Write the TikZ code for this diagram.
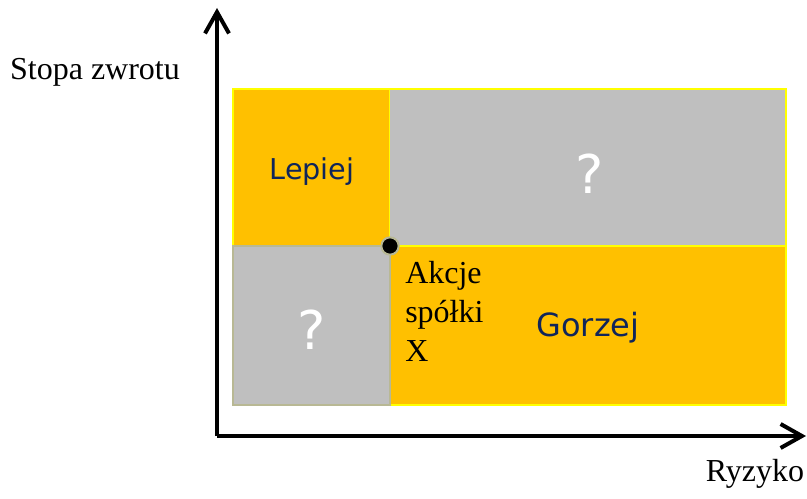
\documentclass[tikz,border=0pt]{standalone}
\usepackage{fontspec}
\setmainfont{Liberation Serif}
\newfontfamily\boxfont{DejaVu Sans}
\usetikzlibrary{arrows.meta}
\definecolor{amber}{HTML}{FFC000}
\definecolor{silver}{HTML}{BFBFBF}
\definecolor{edgeyellow}{HTML}{FFFF00}
\definecolor{edgeolive}{HTML}{B8B894}
\definecolor{navy}{HTML}{10255A}
\tikzset{
  axis/.style={line width=3pt, -{Straight Barb[length=16pt,width=18pt,line width=3pt]}},
  goodbox/.style={fill=amber, draw=edgeyellow, line width=1.8pt},
  unknownbox/.style={fill=silver, draw=edgeolive, line width=1.8pt},
  graybox/.style={fill=silver, draw=none},
  boxlabel/.style={font=\boxfont\fontsize{21.5}{26}\selectfont, text=navy},
  qmark/.style={font=\boxfont\fontsize{40}{48}\selectfont, text=white},
  axislabel/.style={font=\fontsize{24}{29.25}\selectfont}
}
\begin{document}
\begin{tikzpicture}[x=0.75pt, y=-0.75pt]
  \useasboundingbox (0,0) rectangle (807,499);

  % quadrants
  \path[goodbox] (233,89) rectangle (390,246);
  \path[graybox] (390,89) rectangle (786,246);
  \draw[edgeyellow, line width=1.8pt] (390,89) -- (786,89) -- (786,246);
  \path[goodbox] (390,246) rectangle (786,405);
  \path[unknownbox] (233,246) rectangle (390,405);

  % axes
  \coordinate (origin) at (217,436);
  \coordinate (ytip) at (217,8);
  \coordinate (xtip) at (806,436);
  \draw[axis] (origin) -- (ytip);
  \draw[axis] (origin) -- (xtip);

  % current position
  \node[circle, fill=black, draw=edgeolive, line width=1.5pt, minimum size=13pt, inner sep=0pt] (pos) at (390,246) {};

  % labels
  \node[boxlabel] (better) at (312,172) {Lepiej};
  \node[boxlabel, font=\boxfont\fontsize{24}{29}\selectfont] (worse) at (588,328) {Gorzej};
  \node[qmark] (q1) at (590,174) {?};
  \node[qmark] (q2) at (312,330) {?};
  \node[axislabel, align=left, anchor=north west, inner sep=0pt] (stock) at (405,261)
    {Akcje\\spółki\\X};
  \node[axislabel] (ylab) at (95,72) {Stopa zwrotu};
  \node[axislabel] (xlab) at (755,474) {Ryzyko};
\end{tikzpicture}
\end{document}
